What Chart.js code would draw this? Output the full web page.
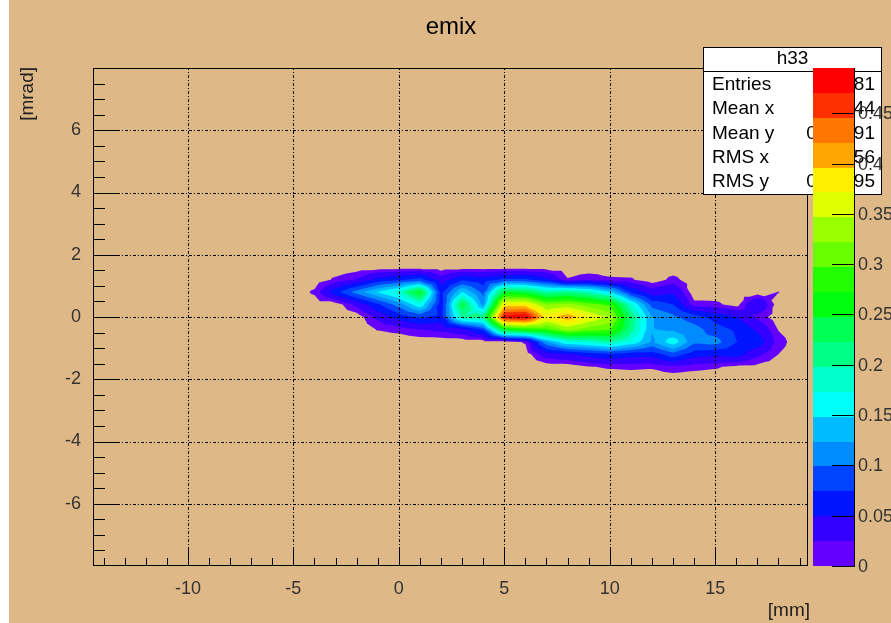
<!DOCTYPE html>
<html>
<head>
<meta charset="utf-8">
<title>emix</title>
<script src="https://cdn.jsdelivr.net/npm/chart.js@4.4.1/dist/chart.umd.min.js"></script>
<style>
  html, body { margin: 0; padding: 0; background: #ffffff; }
  #wrap { position: absolute; left: 9px; top: 0; width: 882px; height: 623px; }
  canvas { display: block; }
</style>
</head>
<body>
<div id="wrap"><canvas id="c" width="882" height="623"></canvas></div>
<script>
// ---- histogram h33 : emittance map, bin centres and contents ----
const xCenters = [-5, -4, -3, -2, -1, 0, 1, 2, 3, 4, 5, 6, 7, 8, 9, 10, 11, 12, 13, 14, 15, 16, 17, 18, 19];
const yCenters = [2.0, 1.6, 1.2, 0.8, 0.4, 0.0, -0.4, -0.8, -1.2, -1.6, -2.0];

// one row of bin contents per y centre, ordered by x centre
const zAtYp20 = [0, 0, 0, 0, 0, 0, 0, 0, 0, 0, 0, 0, 0, 0, 0, 0, 0, 0, 0, 0, 0, 0, 0, 0, 0];
const zAtYp16 = [0, 0, 0, 0, 0, 0, 0, 0, 0, 0, 0, 0, 0, 0, 0, 0, 0, 0, 0, 0, 0, 0, 0, 0, 0];
const zAtYp12 = [0, 0, 0.013, 0.027, 0.057, 0.07, 0.085, 0.035, 0.07, 0.06, 0.08, 0.08, 0.057, 0.0115, 0.02, 0.013, 0.012, 0, 0.015, 0, 0, 0, 0, 0, 0];
const zAtYp08 = [0, 0.013, 0.065, 0.11, 0.15, 0.185, 0.26, 0.065, 0.15, 0.09, 0.25, 0.24, 0.2, 0.21, 0.19, 0.15, 0.07, 0.036, 0.045, 0, 0, 0, 0, 0.0105, 0];
const zAtYp04 = [0, 0, 0, 0.03, 0.07, 0.11, 0.17, 0.06, 0.24, 0.115, 0.38, 0.38, 0.32, 0.33, 0.31, 0.29, 0.18, 0.09, 0.075, 0.015, 0.014, 0.003, 0.05, 0, 0];
const zAtY0   = [0, 0, 0, 0, 0.03, 0.06, 0.08, 0.065, 0.2, 0.21, 0.485, 0.495, 0.38, 0.415, 0.37, 0.34, 0.22, 0.125, 0.105, 0.085, 0.065, 0.05, 0.02, 0, 0];
const zAtYm04 = [0, 0, 0, 0, 0.011, 0.015, 0.025, 0.03, 0.04, 0.08, 0.26, 0.28, 0.29, 0.33, 0.31, 0.30, 0.21, 0.125, 0.12, 0.11, 0.085, 0.07, 0.045, 0.009, 0];
const zAtYm08 = [0, 0, 0, 0, 0, 0, 0, 0, 0, 0, 0, 0.012, 0.12, 0.17, 0.18, 0.2, 0.17, 0.12, 0.165, 0.105, 0.11, 0.075, 0.065, 0.017, 0];
const zAtYm12 = [0, 0, 0, 0, 0, 0, 0, 0, 0, 0, 0, 0, 0.036, 0.045, 0.06, 0.07, 0.06, 0.06, 0.09, 0.06, 0.055, 0.06, 0.03, 0.01, 0];
const zAtYm16 = [0, 0, 0, 0, 0, 0, 0, 0, 0, 0, 0, 0, 0, 0, 0.009, 0.012, 0.0133, 0.012, 0.02, 0.015, 0.012, 0.006, 0.005, 0, 0];
const zAtYm20 = [0, 0, 0, 0, 0, 0, 0, 0, 0, 0, 0, 0, 0, 0, 0, 0, 0, 0, 0, 0, 0, 0, 0, 0, 0];
const zRows = [zAtYp20, zAtYp16, zAtYp12, zAtYp08, zAtYp04, zAtY0, zAtYm04, zAtYm08, zAtYm12, zAtYm16, zAtYm20];

// contour levels (20 bands from 0 to the maximum) and their colours
const contourLevels = [0, 0.02475, 0.0495, 0.07425, 0.099, 0.12375, 0.1485, 0.17325, 0.198, 0.22275,
                       0.2475, 0.27225, 0.297, 0.32175, 0.3465, 0.37125, 0.396, 0.42075, 0.4455, 0.47025, 0.495];
const bandColors = ['#6300ff', '#3300ff', '#0014ff', '#0044ff', '#008bff', '#00bbff', '#00fffb', '#00ffcc', '#00ff85', '#00ff55',
                    '#00ff0e', '#22ff00', '#69ff00', '#99ff00', '#e0ff00', '#ffee00', '#ffa700', '#ff7700', '#ff3000', '#ff0000'];
const paletteTicks = [0, 0.05, 0.1, 0.15, 0.2, 0.25, 0.3, 0.35, 0.4, 0.45];
const paletteLabels = ['0', '0.05', '0.1', '0.15', '0.2', '0.25', '0.3', '0.35', '0.4', '0.45'];

// statistics box
const statsTitle = 'h33';
const statsNames = ['Entries', 'Mean x', 'Mean y', 'RMS x', 'RMS y'];
const statsValues = ['2181', '5.644', '0.02691', '4.656', '0.05595'];

const plotTitle = 'emix';
const xTitle = '[mm]';
const yTitle = '[mrad]';

const FONT = "'Liberation Sans', Arial, Helvetica, sans-serif";
const BG = '#deb887';
const FILL_FLOOR = 0.01;   // lowest value that gets painted

// keep the part of a polygon where the interpolated value is >= lo
function clipAbove(poly, lo) {
  const out = [];
  for (let k = 0; k < poly.length; k++) {
    const p = poly[k], q = poly[(k + 1) % poly.length];
    const pin = p.v >= lo, qin = q.v >= lo;
    if (pin) out.push(p);
    if (pin !== qin) {
      const t = (lo - p.v) / (q.v - p.v);
      out.push({ px: p.px + t * (q.px - p.px), py: p.py + t * (q.py - p.py), v: lo });
    }
  }
  return out;
}

// filled contours: each bin square is split into four triangles around its centre
function drawContours(chart) {
  const ctx = chart.ctx, xs = chart.scales.x, ys = chart.scales.y;
  const P = (i, j) => ({ px: xs.getPixelForValue(xCenters[i]), py: ys.getPixelForValue(yCenters[j]), v: zRows[j][i] });
  const tris = [];
  for (let j = 0; j < yCenters.length - 1; j++) {
    for (let i = 0; i < xCenters.length - 1; i++) {
      const a = P(i, j), b = P(i + 1, j), c = P(i + 1, j + 1), d = P(i, j + 1);
      if (Math.max(a.v, b.v, c.v, d.v) < FILL_FLOOR) continue;
      const m = { px: (a.px + c.px) / 2, py: (a.py + c.py) / 2, v: (a.v + b.v + c.v + d.v) / 4 };
      tris.push([a, b, m], [b, c, m], [c, d, m], [d, a, m]);
    }
  }
  for (let k = 0; k < bandColors.length; k++) {
    const lo = Math.max(contourLevels[k], FILL_FLOOR);
    ctx.beginPath();
    for (const t of tris) {
      const poly = clipAbove(t, lo);
      if (poly.length < 3) continue;
      ctx.moveTo(poly[0].px, poly[0].py);
      for (let n = 1; n < poly.length; n++) ctx.lineTo(poly[n].px, poly[n].py);
      ctx.closePath();
    }
    ctx.fillStyle = bandColors[k];
    ctx.fill('nonzero');
  }
}

function drawGridAndFrame(chart) {
  const ctx = chart.ctx, a = chart.chartArea, xs = chart.scales.x, ys = chart.scales.y;
  ctx.save();
  ctx.strokeStyle = '#000';
  ctx.lineWidth = 1;
  ctx.setLineDash([3, 2, 1, 2]);
  ctx.beginPath();
  xs.ticks.forEach(t => {
    const px = Math.round(xs.getPixelForValue(t.value)) + 0.5;
    ctx.moveTo(px, a.bottom); ctx.lineTo(px, a.top);
  });
  ys.ticks.forEach(t => {
    const py = Math.round(ys.getPixelForValue(t.value)) + 0.5;
    ctx.moveTo(a.left, py); ctx.lineTo(a.right, py);
  });
  ctx.stroke();
  ctx.setLineDash([]);
  ctx.beginPath();
  for (let k = -14; k <= 19; k++) {
    const px = Math.round(xs.getPixelForValue(k)) + 0.5;
    const len = k % 5 === 0 ? 16 : 8;
    ctx.moveTo(px, a.bottom); ctx.lineTo(px, a.bottom - len);
  }
  for (let k = -15; k <= 15; k++) {
    const py = Math.round(ys.getPixelForValue(k * 0.5)) + 0.5;
    const len = k % 4 === 0 ? 25 : 12;
    ctx.moveTo(a.left, py); ctx.lineTo(a.left + len, py);
  }
  ctx.stroke();
  ctx.strokeRect(a.left + 0.5, a.top + 0.5, a.right - a.left - 1, a.bottom - a.top - 1);
  ctx.restore();
}

function drawStats(chart) {
  const ctx = chart.ctx;
  const L = 694, T = 47, R = 873, B = 195;
  ctx.save();
  ctx.fillStyle = '#fff';
  ctx.fillRect(L, T, R - L, B - T);
  ctx.strokeStyle = '#000';
  ctx.lineWidth = 1;
  ctx.strokeRect(L + 0.5, T + 0.5, R - L - 1, B - T - 1);
  ctx.beginPath(); ctx.moveTo(L, 71.5); ctx.lineTo(R, 71.5); ctx.stroke();
  ctx.fillStyle = '#000';
  ctx.font = '19px ' + FONT;
  ctx.textBaseline = 'middle';
  ctx.textAlign = 'center';
  ctx.fillText(statsTitle, (L + R) / 2, 59);
  statsNames.forEach((n, i) => {
    const yy = 85 + i * 24.25;
    ctx.textAlign = 'left';  ctx.fillText(n, 703, yy);
    ctx.textAlign = 'right'; ctx.fillText(statsValues[i], 866, yy);
  });
  ctx.restore();
}

function drawPalette(chart) {
  const ctx = chart.ctx, zs = chart.scales.z;
  const L = 804, R = 845;
  ctx.save();
  for (let k = 0; k < bandColors.length; k++) {
    const y0 = Math.round(zs.getPixelForValue(contourLevels[k]));
    const y1 = Math.round(zs.getPixelForValue(contourLevels[k + 1]));
    ctx.fillStyle = bandColors[k];
    ctx.fillRect(L, y1, R - L, y0 - y1);
  }
  ctx.strokeStyle = '#000';
  ctx.lineWidth = 1;
  ctx.beginPath();
  ctx.moveTo(R + 0.5, Math.round(zs.getPixelForValue(contourLevels[contourLevels.length - 1])));
  ctx.lineTo(R + 0.5, Math.round(zs.getPixelForValue(0)) + 1);
  paletteTicks.forEach(v => {
    const py = Math.round(zs.getPixelForValue(v)) + 0.5;
    ctx.moveTo(R - 22, py); ctx.lineTo(R + 1, py);
  });
  ctx.stroke();
  ctx.fillStyle = '#333';
  ctx.font = '18px ' + FONT;
  ctx.textAlign = 'left';
  ctx.textBaseline = 'middle';
  paletteTicks.forEach((v, i) => ctx.fillText(paletteLabels[i], 849, zs.getPixelForValue(v) + 1));
  ctx.restore();
}

function drawTitles(chart) {
  const ctx = chart.ctx;
  ctx.save();
  ctx.fillStyle = '#000';
  ctx.textBaseline = 'middle';
  ctx.font = '24px ' + FONT;
  ctx.textAlign = 'center';
  ctx.fillText(plotTitle, 442, 27);
  ctx.fillStyle = '#222';
  ctx.font = '19px ' + FONT;
  ctx.textAlign = 'right';
  ctx.fillText(xTitle, 801, 611);
  ctx.translate(19, 67);
  ctx.rotate(-Math.PI / 2);
  ctx.textAlign = 'right';
  ctx.fillText(yTitle, 0, 0);
  ctx.restore();
}

const contourPlugin = {
  id: 'contourPlot',
  beforeDraw(chart) {
    const ctx = chart.ctx, a = chart.chartArea;
    ctx.save();
    ctx.fillStyle = BG;
    ctx.fillRect(0, 0, chart.width, chart.height);
    ctx.beginPath();
    ctx.rect(a.left, a.top, a.right - a.left, a.bottom - a.top);
    ctx.clip();
    drawContours(chart);
    ctx.restore();
  },
  beforeDatasetsDraw(chart) { drawGridAndFrame(chart); },
  afterDraw(chart) { drawStats(chart); drawPalette(chart); drawTitles(chart); }
};

const tickFont = { family: FONT, size: 18 };

new Chart(document.getElementById('c'), {
  type: 'scatter',
  data: { datasets: [] },
  options: {
    responsive: false,
    animation: false,
    devicePixelRatio: 1,
    layout: { padding: { top: 68, right: 83, bottom: 0, left: 0 } },
    plugins: { legend: { display: false }, tooltip: { enabled: false }, title: { display: false } },
    scales: {
      x: {
        type: 'linear', position: 'bottom', min: -14.5, max: 19.4,
        grid: { display: false }, border: { display: false },
        ticks: { stepSize: 5, includeBounds: false, autoSkip: false, maxRotation: 0, padding: 4, font: tickFont, color: '#333' },
        afterFit: s => { s.height = 57; }
      },
      y: {
        type: 'linear', position: 'left', min: -8, max: 8,
        grid: { display: false }, border: { display: false },
        ticks: { stepSize: 2, includeBounds: false, autoSkip: false, padding: 4, font: tickFont, color: '#333' },
        afterBuildTicks: s => { s.ticks = s.ticks.filter(t => Math.abs(t.value) < 7.9); },
        afterFit: s => { s.width = 84; }
      },
      z: {
        type: 'linear', axis: 'y', position: 'right', display: false,
        min: contourLevels[0], max: contourLevels[contourLevels.length - 1]
      }
    }
  },
  plugins: [contourPlugin]
});
</script>
</body>
</html>
